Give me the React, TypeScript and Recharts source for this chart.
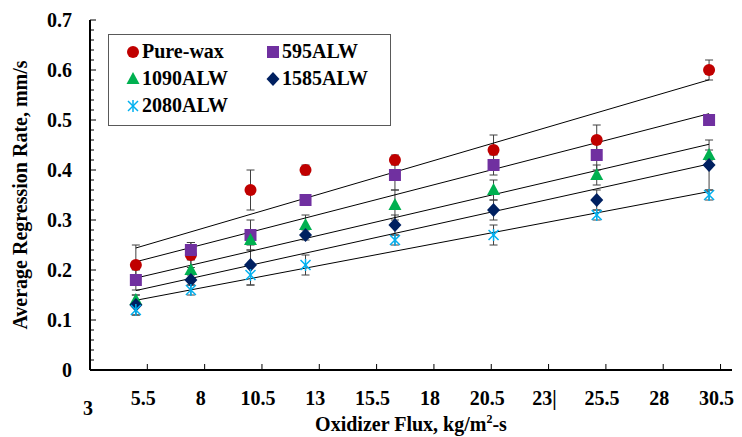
import { ComposedChart, Scatter, Line, XAxis, YAxis, ErrorBar, Legend } from 'recharts';

// oxidizer flux (kg/m2-s) at which each test group was run
const FLUX = [5, 7.4, 10, 12.4, 16.3, 20.6, 25.1, 30];

// average regression rate, mm/s
const PURE_WAX = [0.21, 0.23, 0.36, 0.4, 0.42, 0.44, 0.46, 0.6];
const ALW_595 = [0.18, 0.24, 0.27, 0.34, 0.39, 0.41, 0.43, 0.5];
const ALW_1090 = [0.14, 0.2, 0.26, 0.29, 0.33, 0.36, 0.39, 0.43];
const ALW_1585 = [0.13, 0.18, 0.21, 0.27, 0.29, 0.32, 0.34, 0.41];
const ALW_2080 = [0.12, 0.16, 0.19, 0.21, 0.26, 0.27, 0.31, 0.35];

// error bar half-heights
const PURE_WAX_ERR = [0.04, 0.025, 0.04, 0.01, 0.01, 0.03, 0.03, 0.02];
const ALW_595_ERR = [0.02, 0.015, 0.03, 0.01, 0.03, 0.02, 0.03, 0.01];
const ALW_1090_ERR = [0.01, 0.02, 0.02, 0.02, 0.03, 0.02, 0.02, 0.01];
const ALW_1585_ERR = [0.02, 0.01, 0.04, 0.01, 0.02, 0.02, 0.02, 0.05];
const ALW_2080_ERR = [0.01, 0.01, 0.02, 0.02, 0.01, 0.02, 0.01, 0.01];

const X_TICKS = [3, 5.5, 8, 10.5, 13, 15.5, 18, 20.5, 23, 25.5, 28, 30.5];
const X_TICK_LABELS = ['3', '5.5', '8', '10.5', '13', '15.5', '18', '20.5', '23|', '25.5', '28', '30.5'];
const Y_LABELS = ['0', '0.1', '0.2', '0.3', '0.4', '0.5', '0.6', '0.7'];
// minor ticks every 0.02
const Y_TICKS = Array.from({ length: 36 }, (_, i) => Math.round(i * 2) / 100);

const FONT = "'Liberation Serif', 'Times New Roman', serif";
const FS = 20;

type Kind = 'circle' | 'square' | 'triangle' | 'diamond' | 'asterisk';

const SERIES: { name: string; values: number[]; errors: number[]; color: string; kind: Kind }[] = [
  { name: 'Pure-wax', values: PURE_WAX, errors: PURE_WAX_ERR, color: '#C00000', kind: 'circle' },
  { name: '595ALW', values: ALW_595, errors: ALW_595_ERR, color: '#7030A0', kind: 'square' },
  { name: '1090ALW', values: ALW_1090, errors: ALW_1090_ERR, color: '#00B050', kind: 'triangle' },
  { name: '1585ALW', values: ALW_1585, errors: ALW_1585_ERR, color: '#002060', kind: 'diamond' },
  { name: '2080ALW', values: ALW_2080, errors: ALW_2080_ERR, color: '#00B0F0', kind: 'asterisk' },
];

// linear least-squares trendline across the flux range
function trend(values: number[]) {
  const n = FLUX.length;
  const mx = FLUX.reduce((a, b) => a + b, 0) / n;
  const my = values.reduce((a, b) => a + b, 0) / n;
  let sxy = 0;
  let sxx = 0;
  FLUX.forEach((x, i) => {
    sxy += (x - mx) * (values[i] - my);
    sxx += (x - mx) * (x - mx);
  });
  const slope = sxy / sxx;
  const x0 = FLUX[0];
  const x1 = FLUX[n - 1];
  return [
    { x: x0, y: my + slope * (x0 - mx) },
    { x: x1, y: my + slope * (x1 - mx) },
  ];
}

function Marker({ kind, color, cx, cy }: { kind: Kind; color: string; cx: number; cy: number }) {
  switch (kind) {
    case 'circle':
      return <circle cx={cx} cy={cy} r={6} fill={color} />;
    case 'square':
      return <rect x={cx - 6} y={cy - 6} width={12} height={12} fill={color} />;
    case 'triangle':
      return <polygon points={`${cx},${cy - 7} ${cx + 6.5},${cy + 5} ${cx - 6.5},${cy + 5}`} fill={color} />;
    case 'diamond':
      return <polygon points={`${cx},${cy - 7} ${cx + 6.5},${cy} ${cx},${cy + 7} ${cx - 6.5},${cy}`} fill={color} />;
    default:
      return (
        <g stroke={color} strokeWidth={1.5}>
          <line x1={cx - 5} y1={cy - 5} x2={cx + 5} y2={cy + 5} />
          <line x1={cx - 5} y1={cy + 5} x2={cx + 5} y2={cy - 5} />
          <line x1={cx} y1={cy - 6} x2={cx} y2={cy + 6} />
        </g>
      );
  }
}

const XTick = ({ x, y, index }: any) => {
  const first = index === 0;
  return (
    <g>
      <line x1={x} x2={x} y1={y} y2={y - 6} stroke="#000" />
      <text
        x={first ? x - 2 : x - 4}
        y={first ? y + 45 : y + 35}
        textAnchor="middle"
        fontFamily={FONT}
        fontWeight="bold"
        fontSize={FS}
        fill="#000"
      >
        {X_TICK_LABELS[index]}
      </text>
    </g>
  );
};

const YTick = ({ x, y, payload }: any) => {
  const tenth = payload.value * 10;
  const major = Math.abs(tenth - Math.round(tenth)) < 1e-6;
  return (
    <g>
      <line x1={x} x2={x + (major ? 6 : 4)} y1={y} y2={y} stroke="#000" />
      {major && (
        <text x={x - 18} y={y} dy="0.35em" textAnchor="end" fontFamily={FONT} fontWeight="bold" fontSize={FS} fill="#000">
          {Y_LABELS[Math.round(tenth)]}
        </text>
      )}
    </g>
  );
};

const LegendBox = () => (
  <div
    style={{
      border: '1px solid #595959',
      background: '#fff',
      width: 283,
      height: 92,
      boxSizing: 'border-box',
      padding: '3px 0 0 16px',
      display: 'grid',
      gridTemplateColumns: '140px 130px',
      gridAutoRows: '27px',
      fontFamily: FONT,
      fontWeight: 'bold',
      fontSize: FS,
      color: '#000',
    }}
  >
    {SERIES.map((s) => (
      <div key={s.name} style={{ display: 'flex', alignItems: 'center' }}>
        <svg width={16} height={16} style={{ marginRight: 1 }}>
          <Marker kind={s.kind} color={s.color} cx={8} cy={8} />
        </svg>
        <span>{s.name}</span>
      </div>
    ))}
  </div>
);

export default function App() {
  return (
    <div style={{ position: 'absolute', left: 0, top: 0, background: '#fff' }}>
      <ComposedChart width={742} height={437} margin={{ top: 20, right: 10, bottom: 0, left: 0 }}>
        <XAxis
          xAxisId="main"
          dataKey="x"
          type="number"
          domain={[3, 31]}
          ticks={X_TICKS}
          interval={0}
          tickSize={0}
          tickMargin={0}
          tickLine={false}
          tick={<XTick />}
          height={67}
          axisLine={{ stroke: '#000', strokeWidth: 2 }}
          label={({ viewBox }: any) => (
            <text
              x={viewBox.x + viewBox.width / 2}
              y={viewBox.y + 61}
              textAnchor="middle"
              fontFamily={FONT}
              fontWeight="bold"
              fontSize={FS}
              fill="#000"
            >
              Oxidizer Flux, kg/m
              <tspan fontSize={12} dy={-8}>2</tspan>
              <tspan dy={8}>-s</tspan>
            </text>
          )}
        />
        <XAxis xAxisId="top" orientation="top" type="number" domain={[3, 31]} height={0} tick={false} tickLine={false} axisLine={{ stroke: '#000', strokeWidth: 1.5 }} />
        <YAxis
          yAxisId="main"
          type="number"
          domain={[0, 0.7]}
          ticks={Y_TICKS}
          interval={0}
          tickSize={0}
          tickMargin={0}
          tickLine={false}
          tick={<YTick />}
          width={90}
          axisLine={{ stroke: '#000', strokeWidth: 2 }}
          label={({ viewBox }: any) => {
            const cx = viewBox.x + 20;
            const cy = viewBox.y + viewBox.height / 2;
            return (
              <text
                x={cx}
                y={cy}
                transform={`rotate(-90, ${cx}, ${cy})`}
                textAnchor="middle"
                dominantBaseline="central"
                fontFamily={FONT}
                fontWeight="bold"
                fontSize={FS}
                fill="#000"
              >
                Average Regression Rate, mm/s
              </text>
            );
          }}
        />
        <YAxis yAxisId="right" orientation="right" type="number" domain={[0, 0.7]} width={0} tick={false} tickLine={false} axisLine={{ stroke: '#000', strokeWidth: 1.5 }} />

        {SERIES.map((s) => (
          <Scatter
            key={s.name}
            name={s.name}
            xAxisId="main"
            yAxisId="main"
            data={FLUX.map((x, i) => ({ x, y: s.values[i], err: s.errors[i] }))}
            dataKey="y"
            isAnimationActive={false}
            shape={(p: any) => <Marker kind={s.kind} color={s.color} cx={p.cx} cy={p.cy} />}
          >
            <ErrorBar dataKey="err" direction="y" width={4} stroke="#404040" strokeWidth={1} isAnimationActive={false} />
          </Scatter>
        ))}

        {SERIES.map((s) => (
          <Line
            key={`trend-${s.name}`}
            xAxisId="main"
            yAxisId="main"
            data={trend(s.values)}
            dataKey="y"
            stroke="#000"
            strokeWidth={1}
            dot={false}
            activeDot={false}
            legendType="none"
            isAnimationActive={false}
          />
        ))}

        <Legend
          layout="horizontal"
          verticalAlign="middle"
          align="center"
          content={<LegendBox />}
          wrapperStyle={{ top: 34, left: 108, width: 283, height: 92 }}
        />
      </ComposedChart>
    </div>
  );
}
